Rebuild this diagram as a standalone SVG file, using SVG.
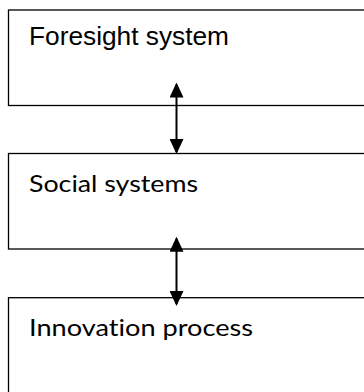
<svg xmlns="http://www.w3.org/2000/svg" width="364" height="392" viewBox="0 0 364 392">
<style>
.box{fill:#fff;stroke:#000;stroke-width:1.3}
.conn{stroke:#000;stroke-width:2;fill:none;marker-start:url(#ah);marker-end:url(#ah)}
.t1{font-family:"Liberation Sans",Arial,sans-serif;font-size:25px;fill:#000}
.t2{font-family:Lato,"Open Sans",sans-serif;font-size:24px;fill:#000;font-variant-ligatures:none;font-feature-settings:"liga" 0,"clig" 0}
</style>
<defs>
<marker id="ah" viewBox="0 0 15 14" refX="13" refY="7" markerWidth="15" markerHeight="14" markerUnits="userSpaceOnUse" orient="auto-start-reverse">
<path d="M0,0 L15,7 L0,14 z" fill="#000"/>
</marker>
</defs>
<g id="foresight">
<rect class="box" x="8.5" y="10" width="370" height="95.5"/>
<text class="t1" x="29" y="45" textLength="200" lengthAdjust="spacingAndGlyphs">Foresight system</text>
</g>
<g id="social">
<rect class="box" x="8.5" y="153.5" width="370" height="95.5"/>
<text class="t2" x="29" y="192" textLength="169" lengthAdjust="spacingAndGlyphs">Social systems</text>
</g>
<g id="innovation">
<rect class="box" x="8.5" y="297.7" width="370" height="110"/>
<text class="t2" x="29" y="336" textLength="224" lengthAdjust="spacingAndGlyphs">Innovation process</text>
</g>
<g id="connectors">
<line class="conn" x1="176.5" y1="84.5" x2="176.5" y2="152"/>
<line class="conn" x1="176.5" y1="238.7" x2="176.5" y2="304"/>
</g>
</svg>
